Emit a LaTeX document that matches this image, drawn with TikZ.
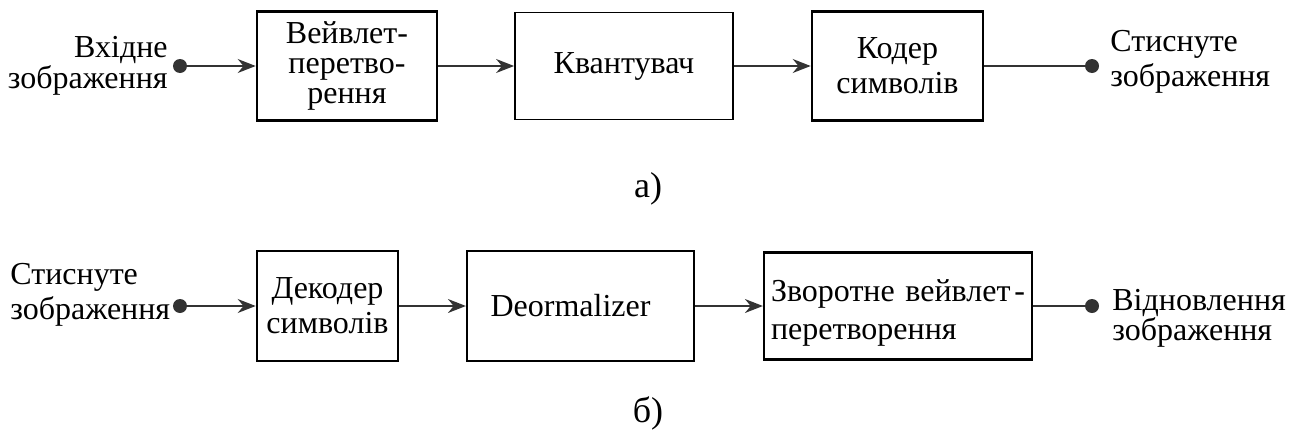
\documentclass[tikz,border=0pt]{standalone}
\usepackage{fontspec}
\setmainfont{Liberation Serif}
\usetikzlibrary{arrows.meta}

\begin{document}
\begin{tikzpicture}[x=0.5pt,y=-0.5pt,
  blk/.style={draw, line width=1.3pt, inner sep=0pt, align=center},
  lbl/.style={inner sep=0pt},
  arr/.style={draw=black!80, line width=0.7pt, -{Stealth[length=9pt,width=7pt]}},
  wire/.style={draw=black!80, line width=0.7pt}]
  \useasboundingbox (0,0) rectangle (1298,434);

  % a) compression
  \node[blk, minimum width=90pt, minimum height=54.5pt, font=\fontsize{16}{15}\selectfont] (wav) at (347,66) {Вейвлет-\\перетво-\\рення};
  \node[blk, line width=0.9pt, minimum width=109pt, minimum height=53.5pt, font=\fontsize{16}{17}\selectfont] (quant) at (624,66) {Квантувач};
  \node[blk, minimum width=85.5pt, minimum height=54.5pt, font=\fontsize{16}{17.5}\selectfont] (coder) at (897.5,66) {Кодер\\символів};
  \coordinate (inA) at (180,66);
  \coordinate (outA) at (1092,66);
  \fill[black!80] (inA) circle (3.5pt);
  \fill[black!80] (outA) circle (3.5pt);
  \node[lbl, anchor=east, align=right, font=\fontsize{16}{15.5}\selectfont] (inAlbl) at (168,66) {Вхідне\\зображення};
  \node[lbl, anchor=west, align=left, font=\fontsize{16}{17.5}\selectfont] (outAlbl) at (1110,62) {Стиснуте\\зображення};
  \draw[arr] (inA) -- (wav);
  \draw[arr] (wav) -- (quant);
  \draw[arr] (quant) -- (coder);
  \draw[wire] (coder) -- (outA);
  \node[lbl, font=\fontsize{18}{20}\selectfont] (capA) at (648,189) {а)};

  % b) decompression
  \node[blk, minimum width=70.5pt, minimum height=55pt, font=\fontsize{16}{17.5}\selectfont] (dec) at (327.5,306) {Декодер\\символів};
  \node[blk, line width=1.1pt, minimum width=113.5pt, minimum height=55pt, font=\fontsize{16}{17}\selectfont] (norm) at (580.5,306) {\hspace*{-10pt}Deormalizer};
  \node[blk, line width=1.1pt, minimum width=134pt, minimum height=53.5pt, text width=127pt, align=left, font=\fontsize{16}{19}\selectfont] (inv) at (898,306) {\rule{0pt}{18pt}Зворотне вейвлет\hfill-\\перетворення};
  \coordinate (inB) at (180,306);
  \coordinate (outB) at (1092,306);
  \fill[black!80] (inB) circle (3.5pt);
  \fill[black!80] (outB) circle (3.5pt);
  \node[lbl, anchor=west, align=left, font=\fontsize{16}{17.5}\selectfont] (inBlbl) at (10,295) {Стиснуте\\зображення};
  \node[lbl, anchor=west, align=left, font=\fontsize{16}{15}\selectfont] (outBlbl) at (1112,318) {Відновлення\\зображення};
  \draw[arr] (inB) -- (dec);
  \draw[arr] (dec) -- (norm);
  \draw[arr] (norm) -- (inv);
  \draw[wire] (inv) -- (outB);
  \node[lbl, font=\fontsize{18}{20}\selectfont] (capB) at (648,413) {б)};
\end{tikzpicture}
\end{document}
